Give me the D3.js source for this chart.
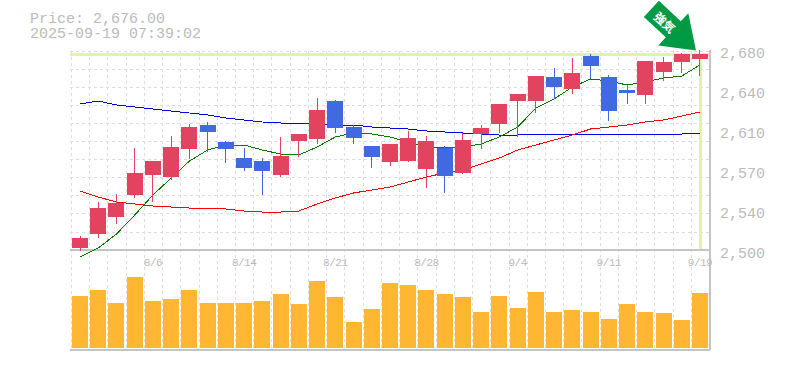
<!DOCTYPE html>
<html><head><meta charset="utf-8">
<style>html,body{margin:0;padding:0;background:#fff}svg{display:block}</style>
<script src="https://cdn.jsdelivr.net/npm/d3@7/dist/d3.min.js"></script>
</head><body><svg id="c" width="785" height="370"></svg>
<script>
const titlePrice = "Price: 2,676.00";
const titleTime = "2025-09-19 07:39:02";
const signalText = "強気";
const lastPrice = 2676;
const priceTicks = [2500,2536,2572,2608,2644,2680];
const priceTickLabels = ["2,500","2,540","2,570","2,610","2,640","2,680"];
const dateTickIndex = [4,9,14,19,24,29,34];
const dateTickLabels = ["8/6","8/14","8/21","8/28","9/4","9/11","9/19"];
const opens = [2501.8,2514.4,2529.7,2549.5,2567.5,2565.7,2590.9,2612.5,2597.2,2582.8,2580.1,2567.5,2598.1,2599.9,2634.1,2610.7,2593.6,2579.2,2580.1,2572.9,2591.8,2569.3,2604.4,2613.4,2634.1,2634.1,2655.7,2644.9,2674.6,2655.7,2644,2639.5,2660.2,2669.2,2671.9];
const closes = [2510.8,2537.8,2542.3,2569.3,2580.1,2592.7,2610.7,2606.2,2590.9,2573.8,2571.1,2584.6,2604.4,2626,2609.8,2600.8,2583.7,2595.4,2600.8,2598.1,2566.6,2599,2609.8,2631.4,2640.4,2656.6,2646.7,2659.3,2665.6,2625.1,2641.3,2670.1,2669.2,2676.4,2676.4];
const highs = [2512.6,2543.2,2550.4,2591.8,2580.1,2602.6,2613.4,2615.2,2598.1,2591.8,2582.8,2601.7,2604.4,2636.8,2635,2612.5,2593.6,2595.4,2607.1,2602.6,2593.6,2605.3,2612.5,2631.4,2640.4,2656.6,2663.8,2672.8,2676.4,2657.5,2648.5,2670.1,2673.7,2677.3,2680];
const lows = [2499.1,2510.8,2523.4,2546.8,2543.2,2563,2581.9,2588.2,2578.3,2571.1,2549.5,2565.7,2583.7,2595.4,2605.3,2595.4,2573.8,2575.6,2579.2,2555.8,2551.3,2568.4,2590.9,2605.3,2601.7,2623.3,2635.9,2640.4,2654.8,2616.1,2631.4,2631.4,2652.1,2659.3,2656.6];
const maShort = [2493.7,2501.8,2514.4,2531.5,2549.5,2564.8,2580.1,2590,2594.5,2594.5,2590,2586.4,2585.5,2592.7,2601.7,2605.3,2604.4,2601.7,2597.2,2592.7,2591.8,2592.7,2595.4,2601.7,2610.7,2627.8,2635.9,2646.7,2653.9,2652.1,2648.5,2651.2,2654.8,2656.6,2666.5];
const maMid = [2553.1,2547.7,2543.2,2541.4,2539.6,2538.7,2537.8,2537.8,2536.9,2535.1,2534.2,2534.2,2535.1,2541.4,2546.8,2551.3,2554,2556.7,2561.2,2565.7,2569.3,2572,2577.4,2582.8,2590,2594.5,2599,2603.5,2608.9,2610.7,2612.5,2615.2,2617,2620.6,2624.2];
const maLong = [2631.4,2634.1,2630.5,2628.7,2626.9,2625.1,2623.3,2621.5,2618.8,2617,2615.2,2614.3,2614.3,2613.4,2612.5,2612.5,2610.7,2609.8,2608.9,2607.1,2606.2,2605.3,2604.4,2603.5,2603.5,2604.4,2604.4,2604.4,2604.4,2604.4,2604.4,2604.4,2604.4,2604.4,2605.3];
const volumes = [52,58,45,71,47,49,58,45,45,45,47,54,44,67,51,26,39,65,63,58,54,51,36,52,40,56,36,38,36,29,44,36,35,28,55];

const GREY="#bbb", GRID="#ddd", FONT="'Liberation Mono','DejaVu Sans Mono',monospace";
const svg=d3.select("#c");
const idx=d3.range(opens.length);
const x=d3.scaleBand().domain(idx).range([70.9,709.1]);
const cx=i=>x(i)+x.bandwidth()/2;
const y=d3.scaleLinear().domain([2500,2680]).range([250,50]);
const v=d3.scaleLinear().domain([0,100]).range([348,248]);
const bw=16;

// grid
const gridG=svg.append("g").attr("stroke",GRID).attr("stroke-dasharray","3,3").attr("shape-rendering","crispEdges");
gridG.selectAll(".gv").data(d3.range(opens.length)).join("line")
 .attr("x1",i=>Math.round(x(i))+.5).attr("x2",i=>Math.round(x(i))+.5).attr("y1",51).attr("y2",350);
gridG.selectAll(".gh").data(d3.range(0,11)).join("line")
 .attr("x1",70).attr("x2",710).attr("y1",k=>Math.round(50.5+k*18.1)+.5).attr("y2",k=>Math.round(50.5+k*18.1)+.5);

// last price guides
svg.append("line").attr("x1",70).attr("x2",710).attr("y1",y(lastPrice)).attr("y2",y(lastPrice)).attr("stroke","#e0f5a3").attr("stroke-width",3).attr("shape-rendering","crispEdges");
svg.append("line").attr("x1",Math.round(cx(34))+.5).attr("x2",Math.round(cx(34))+.5).attr("y1",y(lastPrice)).attr("y2",250).attr("stroke","#e0f5a3").attr("stroke-width",3).attr("shape-rendering","crispEdges");

// frame
const fr=svg.append("g").attr("stroke","#c4c4c4").attr("stroke-width",1.5).attr("shape-rendering","crispEdges");
fr.append("line").attr("x1",70).attr("x2",710).attr("y1",250).attr("y2",250);
fr.append("line").attr("x1",70).attr("x2",710).attr("y1",350).attr("y2",350);
fr.append("line").attr("x1",710).attr("x2",710).attr("y1",50).attr("y2",350);

// volume
svg.append("g").attr("fill","#ffb733").attr("shape-rendering","crispEdges").selectAll("rect").data(idx).join("rect")
 .attr("x",i=>Math.round(cx(i)-bw/2)).attr("width",bw).attr("y",i=>v(volumes[i])).attr("height",i=>348-v(volumes[i]));

// moving averages (under the candles)
const ln=d3.line().x((d,i)=>cx(i)).y(d=>y(d));
[[maLong,"#0000e6"],[maMid,"#f00"],[maShort,"#007a00"]].forEach(([s,c])=>
 svg.append("path").attr("d",ln(s)).attr("fill","none").attr("stroke",c).attr("stroke-width",1).attr("shape-rendering","crispEdges"));

// candles
const col=i=>closes[i]>=opens[i]?"#e2445f":"#4169e1";
const cg=svg.append("g").attr("shape-rendering","crispEdges");
cg.selectAll(".w").data(idx).join("line")
 .attr("x1",i=>Math.floor(cx(i))+.5).attr("x2",i=>Math.floor(cx(i))+.5)
 .attr("y1",i=>y(highs[i])).attr("y2",i=>y(lows[i])).attr("stroke",col);
cg.selectAll(".b").data(idx).join("rect")
 .attr("x",i=>Math.round(cx(i)-bw/2)).attr("width",bw)
 .attr("y",i=>y(Math.max(opens[i],closes[i])))
 .attr("height",i=>Math.abs(y(opens[i])-y(closes[i]))).attr("fill",col);

// axes
const yAxis=d3.axisRight(y).tickValues(priceTicks).tickFormat((d,i)=>priceTickLabels[i]).tickSize(0).tickPadding(0);
const ya=svg.append("g").attr("transform","translate(720,3)").call(yAxis);
ya.select(".domain").remove();
ya.selectAll("text").attr("font-family",FONT).attr("font-size",15).attr("fill",GREY);
const xAxis=d3.axisBottom(x).tickValues(dateTickIndex).tickFormat((d,i)=>dateTickLabels[i]).tickSize(0).tickPadding(0);
const xa=svg.append("g").attr("transform","translate(0,258)").call(xAxis);
xa.select(".domain").remove();
xa.selectAll("text").attr("font-family",FONT).attr("font-size",11).attr("letter-spacing","-0.5px").attr("fill",GREY);

// title
const tt=svg.append("text").attr("font-family",FONT).attr("font-size",15).attr("fill",GREY);
tt.append("tspan").attr("x",30).attr("y",23).text(titlePrice);
tt.append("tspan").attr("x",30).attr("y",38).text(titleTime);

// signal arrow: pointing at the last candle
const arrow=svg.append("g").attr("transform",`translate(${cx(34)-4},${y(lastPrice)-4}) rotate(43)`);
arrow.append("path").attr("d","M0,0 L-31,-22 L-31,-11 L-61,-11 L-61,11 L-31,11 L-31,22 Z").attr("fill","#009944");
arrow.append("text").attr("x",-42).attr("y",0).attr("text-anchor","middle").attr("dominant-baseline","central")
 .attr("font-family","'Noto Sans CJK JP'").attr("font-weight",700).attr("font-size",12).attr("fill","#fff").text(signalText);
</script></body></html>
